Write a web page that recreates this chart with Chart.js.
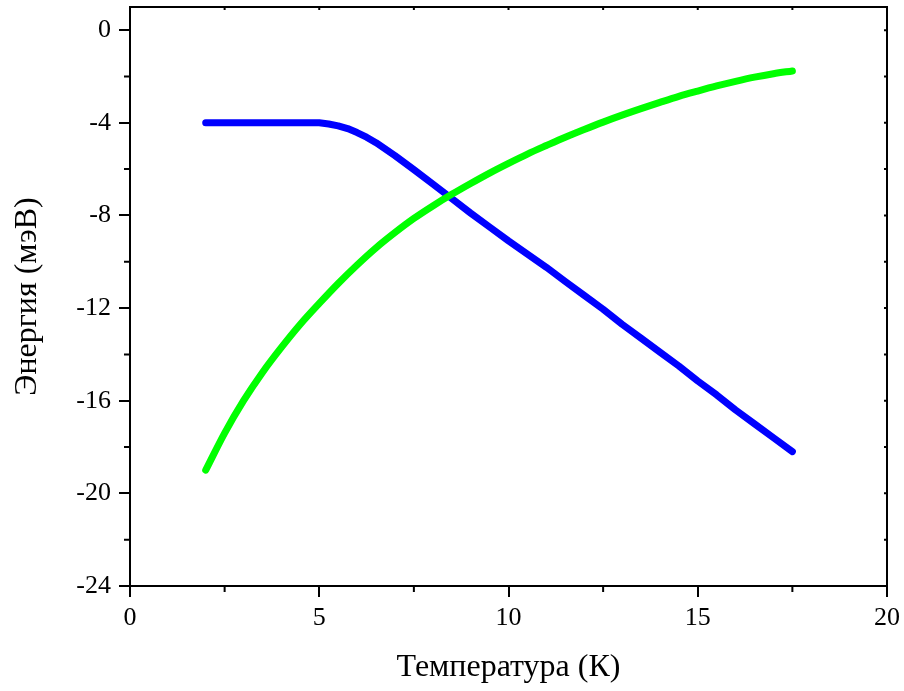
<!DOCTYPE html>
<html>
<head>
<meta charset="utf-8">
<script src="https://cdn.jsdelivr.net/npm/chart.js@4.4.1/dist/chart.umd.min.js"></script>
<style>
  html, body { margin: 0; padding: 0; background: #fff; }
  #wrap { width: 904px; height: 691px; }
</style>
</head>
<body>
<div id="wrap"><canvas id="energyChart" width="904" height="691"></canvas></div>
<script>
/* data */
var tBlue = [2, 2.5, 3, 3.5, 4, 4.5, 5, 5.25, 5.5, 5.75, 6, 6.25, 6.5, 7, 7.5, 8, 8.5, 9, 9.5, 10, 10.5, 11, 11.5, 12, 12.5, 13, 13.5, 14, 14.5, 15, 15.5, 16, 16.5, 17, 17.5];
var eBlue = [-4, -4, -4, -4, -4, -4, -4, -4.05, -4.13, -4.25, -4.42, -4.62, -4.86, -5.42, -6.02, -6.64, -7.27, -7.9, -8.5, -9.1, -9.67, -10.24, -10.85, -11.45, -12.05, -12.7, -13.3, -13.9, -14.5, -15.15, -15.75, -16.4, -17.0, -17.6, -18.2];

var tGreen = [2, 2.5, 3, 3.5, 4, 4.5, 5, 5.5, 6, 6.5, 7, 7.5, 8, 8.5, 9, 9.5, 10, 10.5, 11, 11.5, 12, 12.5, 13, 13.5, 14, 14.5, 15, 15.5, 16, 16.5, 17, 17.5];
var eGreen = [-19.0, -17.4, -16.0, -14.78, -13.7, -12.7, -11.8, -10.94, -10.14, -9.4, -8.74, -8.13, -7.59, -7.09, -6.62, -6.17, -5.75, -5.35, -4.98, -4.62, -4.29, -3.97, -3.67, -3.39, -3.12, -2.86, -2.63, -2.41, -2.21, -2.03, -1.88, -1.76];

var xTicks = [0, 5, 10, 15, 20];
var yTicks = [0, -4, -8, -12, -16, -20, -24];
var xMinor = [2.5, 7.5, 12.5, 17.5];
var yMinor = [-2, -6, -10, -14, -18, -22];

function pairs(xs, ys) {
  return xs.map(function (v, i) { return { x: v, y: ys[i] }; });
}

var serif = '"Liberation Serif", "Times New Roman", serif';

// frame on top/right plus the minor and inner ticks
var frame = {
  id: 'frame',
  afterDraw: function (chart) {
    var c = chart.ctx, a = chart.chartArea, sx = chart.scales.x, sy = chart.scales.y;
    c.save();
    c.strokeStyle = '#000';
    c.lineWidth = 2;
    c.beginPath();
    c.moveTo(a.left, a.top);
    c.lineTo(a.right, a.top);
    c.lineTo(a.right, a.bottom);
    c.stroke();
    c.beginPath();
    xMinor.forEach(function (v) {
      var p = sx.getPixelForValue(v);
      c.moveTo(p, a.bottom); c.lineTo(p, a.bottom + 6);
    });
    xMinor.concat(xTicks).forEach(function (v) {
      var p = sx.getPixelForValue(v);
      c.moveTo(p, a.top); c.lineTo(p, a.top + 3);
    });
    yMinor.forEach(function (v) {
      var p = sy.getPixelForValue(v);
      c.moveTo(a.left - 6, p); c.lineTo(a.left, p);
    });
    yMinor.concat(yTicks).forEach(function (v) {
      var p = sy.getPixelForValue(v);
      c.moveTo(a.right - 3, p); c.lineTo(a.right, p);
    });
    c.stroke();
    c.restore();
  }
};

var ctx = document.getElementById('energyChart');

var chart = new Chart(ctx, {
  type: 'line',
  data: {
    datasets: [{
      label: 'green',
      data: pairs(tGreen, eGreen),
      borderColor: '#00ff00',
      borderWidth: 7,
      borderCapStyle: 'round',
      borderJoinStyle: 'round',
      cubicInterpolationMode: 'monotone',
      pointRadius: 0,
      fill: false
    }, {
      label: 'blue',
      data: pairs(tBlue, eBlue),
      borderColor: '#0000ff',
      borderWidth: 7,
      borderCapStyle: 'round',
      borderJoinStyle: 'round',
      tension: 0,
      pointRadius: 0,
      fill: false
    }]
  },
  options: {
    responsive: false,
    animation: false,
    layout: { padding: { left: 8, top: 7, right: 17, bottom: 4 } },
    plugins: {
      legend: { display: false },
      tooltip: { enabled: false }
    },
    scales: {
      x: {
        type: 'linear',
        min: 0,
        max: 20,
        afterBuildTicks: function (s) { s.ticks = xTicks.map(function (v) { return { value: v }; }); },
        afterFit: function (s) {
          s.height = 691 - 4 - 586;
          s.paddingLeft = 0; s.paddingRight = 0;
        },
        grid: { drawOnChartArea: false, color: '#000', lineWidth: 2, tickLength: 11 },
        border: { display: true, color: '#000', width: 2 },
        ticks: { color: '#000', padding: 6, maxRotation: 0, font: { family: serif, size: 26 } },
        title: {
          display: true,
          text: 'Температура (К)',
          color: '#000',
          padding: { top: 0, bottom: 0 },
          font: { family: serif, size: 32 }
        }
      },
      y: {
        type: 'linear',
        min: -24,
        max: 1,
        afterBuildTicks: function (s) { s.ticks = yTicks.map(function (v) { return { value: v }; }); },
        afterFit: function (s) {
          s.width = 130 - 8;
          s.paddingTop = 0; s.paddingBottom = 0;
        },
        grid: { drawOnChartArea: false, color: '#000', lineWidth: 2, tickLength: 11 },
        border: { display: true, color: '#000', width: 2 },
        ticks: { color: '#000', padding: 8, font: { family: serif, size: 26 } },
        title: {
          display: true,
          text: 'Энергия (мэВ)',
          color: '#000',
          padding: { top: 0, bottom: 0 },
          font: { family: serif, size: 32 }
        }
      }
    }
  },
  plugins: [frame]
});
</script>
</body>
</html>
